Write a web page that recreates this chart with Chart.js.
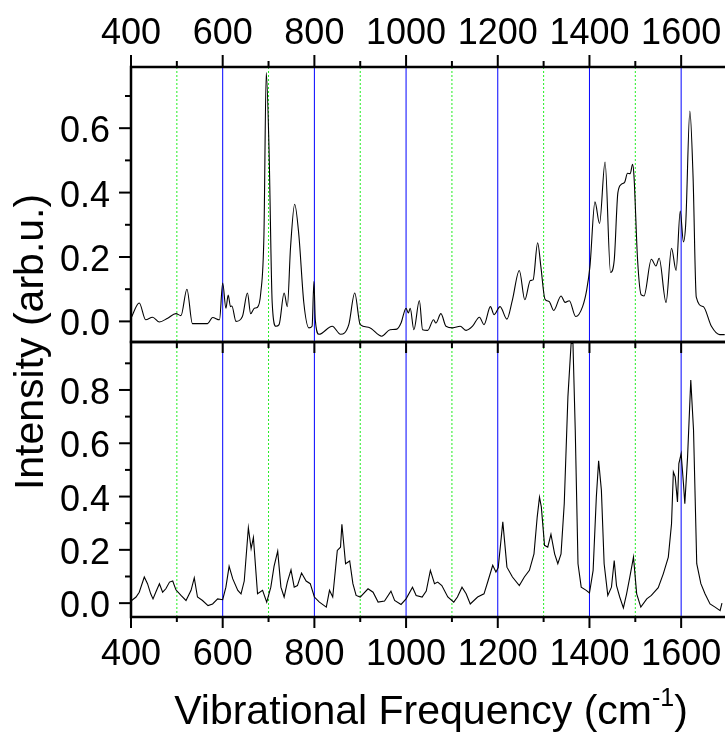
<!DOCTYPE html>
<html><head><meta charset="utf-8">
<script src="https://cdn.jsdelivr.net/npm/chart.js@4/dist/chart.umd.min.js"></script>
<style>
html,body{margin:0;padding:0;background:#fff;overflow:hidden;}
#wrap{width:725px;height:733px;overflow:hidden;position:relative;}
#c{position:absolute;left:0;top:0;}
</style></head><body>
<div id="wrap"><canvas id="c" width="727" height="733"></canvas></div>
<script>
// ---- data ----
const topFreq=[400,418,432,447,462,480,498,509,522,534,567,578,593,600,607,612,617,620,629,643,654,661,669,676,683,690,695,701,708,716,723,734,741,748,757,766,777,788,795,799,802,810,839,857,875,888,900,918,947,965,980,989,1000,1005,1009,1017,1029,1036,1047,1060,1065,1076,1087,1102,1118,1131,1145,1160,1170,1184,1192,1205,1220,1232,1247,1259,1271,1277,1287,1294,1303,1312,1322,1338,1347,1356,1370,1385,1394,1401,1412,1422,1434,1446,1454,1462,1470,1477,1483,1489,1494,1497,1505,1513,1519,1535,1545,1552,1567,1579,1589,1598,1605,1610,1619,1626,1633,1648,1666,1684,1695];
const topInt=[0.01,0.057,0.005,0.013,-0.002,0.01,0.024,0.018,0.10,-0.007,-0.007,0.012,0.005,0.119,0.041,0.082,0.046,0.048,0.0,0.015,0.088,0.024,0.041,0.044,0.088,0.27,0.773,0.54,0.057,-0.015,-0.01,0.088,0.046,0.23,0.364,0.27,0.057,-0.02,-0.015,0.124,0.005,-0.04,-0.015,-0.04,-0.01,0.088,-0.01,-0.018,-0.046,-0.026,-0.024,-0.005,0.041,0.026,0.041,-0.026,0.065,-0.026,-0.028,0.005,-0.005,0.024,-0.015,-0.02,-0.015,-0.028,-0.015,0.013,-0.01,0.046,0.021,0.046,0.007,0.067,0.158,0.067,0.127,0.129,0.244,0.17,0.069,0.062,0.034,0.079,0.059,0.064,0.015,0.046,0.098,0.17,0.371,0.304,0.495,0.152,0.19,0.40,0.426,0.433,0.46,0.459,0.488,0.454,0.19,0.082,0.079,0.193,0.172,0.196,0.059,0.227,0.158,0.343,0.247,0.304,0.653,0.448,0.075,0.046,-0.015,-0.041,-0.041];
const botFreq=[400,411,418,429,436,443,448,454,462,469,476,484,491,498,509,520,531,538,545,556,568,578,589,600,607,614,622,633,640,647,656,662,667,676,687,696,705,712,720,727,734,741,749,756,763,772,782,791,800,811,826,833,840,850,857,860,864,868,877,884,891,900,917,928,939,953,967,975,989,1000,1014,1022,1035,1044,1053,1062,1069,1078,1091,1104,1112,1122,1131,1140,1156,1170,1179,1189,1196,1201,1211,1220,1232,1247,1258,1269,1279,1286,1291,1295,1302,1309,1316,1324,1331,1338,1345,1353,1360,1364,1369,1375,1382,1393,1400,1408,1415,1420,1426,1432,1440,1448,1454,1459,1466,1474,1481,1488,1496,1503,1512,1525,1535,1550,1561,1572,1579,1583,1587,1592,1595,1600,1605,1608,1614,1621,1627,1634,1643,1652,1663,1674,1685,1689];
const botInt=[0.008,0.023,0.041,0.098,0.073,0.035,0.016,0.041,0.073,0.041,0.054,0.079,0.083,0.05,0.029,0.01,0.048,0.095,0.023,0.01,-0.009,-0.003,0.016,0.013,0.06,0.138,0.091,0.048,0.035,0.083,0.283,0.204,0.246,0.035,0.048,0.004,0.06,0.138,0.195,0.06,0.023,0.079,0.125,0.06,0.066,0.113,0.083,0.073,0.023,0.004,-0.015,0.048,0.023,0.198,0.21,0.296,0.223,0.148,0.158,0.073,0.029,0.023,0.054,0.041,0.004,0.008,0.045,0.01,-0.005,0.016,0.06,0.029,0.023,0.045,0.123,0.073,0.079,0.066,0.023,0.004,0.023,0.06,0.035,-0.003,0.023,0.035,0.085,0.142,0.117,0.133,0.305,0.135,0.098,0.066,0.098,0.123,0.185,0.323,0.398,0.361,0.217,0.21,0.258,0.185,0.148,0.185,0.373,0.774,0.975,0.975,0.65,0.148,0.06,0.048,0.038,0.123,0.398,0.534,0.424,0.148,0.029,0.06,0.16,0.066,0.023,-0.018,0.035,0.098,0.173,0.035,-0.015,0.016,0.029,0.058,0.11,0.173,0.298,0.492,0.474,0.38,0.524,0.561,0.449,0.373,0.549,0.837,0.649,0.148,0.073,0.035,-0.003,-0.015,-0.028,0];
const xTickLabels=[400,600,800,1000,1200,1400,1600];
const xMinorTicks=[500,700,900,1100,1300,1500,1700];
const yTopTickLabels=[0,0.2,0.4,0.6];
const yTopMinor=[0.1,0.3,0.5,0.7];
const yBotTickLabels=[0,0.2,0.4,0.6,0.8];
const yBotMinor=[0.1,0.3,0.5,0.7,0.9];
const greenLines=[500,700,900,1100,1300,1500];
const blueLines=[600,800,1000,1200,1400,1600];
const xTitle='Vibrational Frequency (cm', xTitleSup='-1', xTitleEnd=')';
const yTitle='Intensity (arb.u.)';

const FONT='"Liberation Sans", Arial, sans-serif';

const framePlugin={
  id:'frame',
  beforeDatasetsDraw(chart){
    const ctx=chart.ctx, x=chart.scales.x, a=chart.chartArea;
    ctx.save();
    ctx.lineWidth=1;
    ctx.strokeStyle='#22ee22';
    ctx.setLineDash([2,2]);
    greenLines.forEach(v=>{const px=x.getPixelForValue(v);ctx.beginPath();ctx.moveTo(px,a.top);ctx.lineTo(px,a.bottom);ctx.stroke();});
    ctx.setLineDash([]);
    ctx.strokeStyle='#0000ff';
    blueLines.forEach(v=>{const px=x.getPixelForValue(v);ctx.beginPath();ctx.moveTo(px,a.top);ctx.lineTo(px,a.bottom);ctx.stroke();});
    ctx.restore();
  },
  afterDraw(chart){
    const ctx=chart.ctx, x=chart.scales.x, xt=chart.scales.xTop, yT=chart.scales.yTop, yB=chart.scales.yBot, a=chart.chartArea;
    ctx.save();
    ctx.strokeStyle='#000';
    ctx.lineWidth=2.5;
    ctx.strokeRect(a.left,yT.top,a.right-a.left,yT.bottom-yT.top);
    ctx.strokeRect(a.left,yB.top,a.right-a.left,yB.bottom-yB.top);
    ctx.lineWidth=2;
    const vt=(px,y0,len)=>{ctx.beginPath();ctx.moveTo(px,y0);ctx.lineTo(px,y0+len);ctx.stroke();};
    const ht=(py,x0,len)=>{ctx.beginPath();ctx.moveTo(x0,py);ctx.lineTo(x0+len,py);ctx.stroke();};
    xTickLabels.forEach(v=>{const p=x.getPixelForValue(v);vt(p,yT.top,-12);vt(p,yT.bottom,11);vt(p,yB.bottom,11);});
    xMinorTicks.forEach(v=>{const p=x.getPixelForValue(v);vt(p,yT.top,-6);vt(p,yT.bottom,6);vt(p,yB.bottom,5);});
    yTopTickLabels.forEach(v=>ht(yT.getPixelForValue(v),a.left,-12));
    yTopMinor.forEach(v=>ht(yT.getPixelForValue(v),a.left,-6));
    yBotTickLabels.forEach(v=>ht(yB.getPixelForValue(v),a.left,-12));
    yBotMinor.forEach(v=>ht(yB.getPixelForValue(v),a.left,-6));
    // tick labels
    ctx.fillStyle='#000';
    ctx.font='36px '+FONT;
    ctx.textBaseline='alphabetic';
    ctx.textAlign='center';
    xt.ticks.forEach(t=>ctx.fillText(String(t.value),xt.getPixelForValue(t.value),44));
    x.ticks.forEach(t=>ctx.fillText(String(t.value),x.getPixelForValue(t.value),665));
    ctx.textAlign='right';
    yT.ticks.forEach(t=>ctx.fillText(Number(t.value).toFixed(1),110,yT.getPixelForValue(t.value)+14));
    yB.ticks.forEach(t=>ctx.fillText(Number(t.value).toFixed(1),110,yB.getPixelForValue(t.value)+14));
    // axis titles
    ctx.font='41px '+FONT; const w1=ctx.measureText(xTitle).width, w3=ctx.measureText(xTitleEnd).width;
    ctx.font='25px '+FONT; const w2=ctx.measureText(xTitleSup).width;
    const tot=w1+w2+w3; let tx=431-tot/2; const by=724;
    ctx.textAlign='left';
    ctx.font='41px '+FONT; ctx.fillText(xTitle,tx,by); tx+=w1;
    ctx.font='25px '+FONT; ctx.fillText(xTitleSup,tx,by-18); tx+=w2;
    ctx.font='41px '+FONT; ctx.fillText(xTitleEnd,tx,by);
    ctx.translate(43,342); ctx.rotate(-Math.PI/2);
    ctx.font='41px '+FONT; ctx.textAlign='center';
    ctx.fillText(yTitle,0,0);
    ctx.restore();
  }
};

const setTicks=arr=>s=>{s.ticks=arr.map(v=>({value:v}));};
const noPadX=h=>s=>{s.height=h;s.paddingLeft=0;s.paddingRight=0;};
const noPadY=s=>{s.width=131;s.paddingTop=0;s.paddingBottom=0;};
const hiddenTicks={display:false,autoSkip:false};

new Chart(document.getElementById('c'),{
  type:'line',
  data:{datasets:[
    {data:topFreq.map((f,i)=>({x:f,y:topInt[i]})),xAxisID:'x',yAxisID:'yTop',borderColor:'#000',borderWidth:1.1,pointRadius:0,cubicInterpolationMode:'monotone',fill:false},
    {data:botFreq.map((f,i)=>({x:f,y:botInt[i]})),xAxisID:'x',yAxisID:'yBot',borderColor:'#000',borderWidth:1.1,pointRadius:0,tension:0,fill:false}
  ]},
  options:{
    responsive:false,animation:false,devicePixelRatio:1,
    layout:{padding:0},
    plugins:{legend:{display:false},tooltip:{enabled:false}},
    scales:{
      x:{type:'linear',position:'bottom',min:400,max:1700,afterBuildTicks:setTicks(xTickLabels),
         grid:{display:false},border:{display:false},ticks:hiddenTicks,afterFit:noPadX(116)},
      xTop:{type:'linear',position:'top',min:400,max:1700,afterBuildTicks:setTicks(xTickLabels),
         grid:{display:false},border:{display:false},ticks:hiddenTicks,afterFit:noPadX(67)},
      yBot:{type:'linear',position:'left',stack:'v',stackWeight:1,min:-0.052,max:0.98,afterBuildTicks:setTicks(yBotTickLabels),
         grid:{display:false},border:{display:false},ticks:hiddenTicks,afterFit:noPadY},
      yTop:{type:'linear',position:'left',stack:'v',stackWeight:1,min:-0.064,max:0.79,afterBuildTicks:setTicks(yTopTickLabels),
         grid:{display:false},border:{display:false},ticks:hiddenTicks,afterFit:noPadY}
    }
  },
  plugins:[framePlugin]
});
</script></body></html>
